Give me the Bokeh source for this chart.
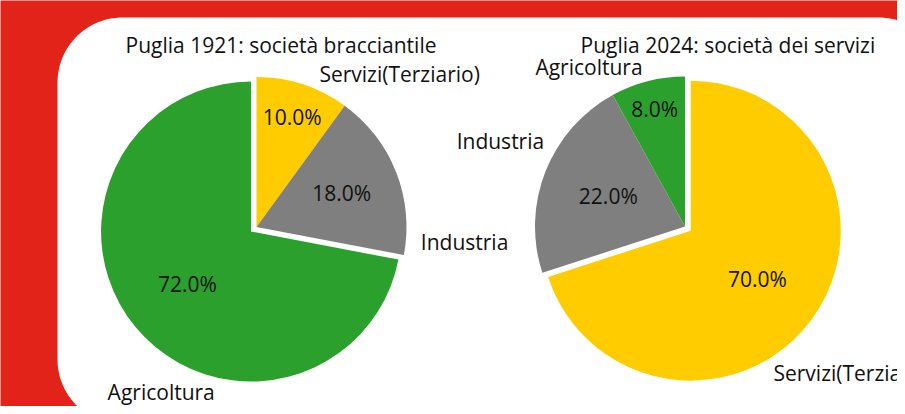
import numpy as np
from bokeh.plotting import figure
from bokeh.models import Range1d
from bokeh.core.properties import value
from bokeh.embed import file_html
from bokeh.resources import INLINE

# ---------------- data ----------------
sectors = ["Servizi(Terziario)", "Industria", "Agricoltura"]
share_1921 = [10.0, 18.0, 72.0]
share_2024 = [70.0, 22.0, 8.0]
title_1921 = "Puglia 1921: società bracciantile"
title_2024 = "Puglia 2024: società dei servizi"

# ---------------- style / layout ----------------
sector_colors = ["#FFCC00", "#7F7F7F", "#2CA02C"]
RED = "#E2231A"
FONT = value("Open Sans")
FS = "21px"
W, H = 897, 406           # figure size (page margin 8px)

def Y(img_y):             # picture row -> data y (y up)
    return H - img_y

p = figure(width=W, height=H, x_range=Range1d(0, W), y_range=Range1d(0, H),
           output_backend="svg", toolbar_location=None, min_border=0)
p.axis.visible = False
p.grid.visible = False
p.outline_line_color = None
p.background_fill_color = RED
p.border_fill_color = RED

# white rounded panel
x0, x1, yt, yb, rr = 57, 943, 17, 424, 65
def arc(cx, cy, a0, a1):
    t = np.linspace(np.radians(a0), np.radians(a1), 30)
    return cx + rr * np.cos(t), cy + rr * np.sin(t)
xs, ys = [], []
for cx, cy, a0, a1 in [(x1 - rr, Y(yt) - rr, 0, 90), (x0 + rr, Y(yt) - rr, 90, 180),
                       (x0 + rr, Y(yb) + rr, 180, 270), (x1 - rr, Y(yb) + rr, 270, 360)]:
    ax, ay = arc(cx, cy, a0, a1)
    xs += list(ax); ys += list(ay)
p.patch(xs, ys, fill_color="white", line_color=None)


def pie(cx, cy_img, r, vals, pull, label_angles, title, title_x):
    cy = Y(cy_img)
    v = np.array(vals, dtype=float)
    fr = v / v.sum()
    cum = np.concatenate([[0], np.cumsum(fr)])
    a_start = 90 - 360 * cum[:-1]
    a_end = 90 - 360 * cum[1:]
    mid = np.radians((a_start + a_end) / 2)
    off = np.array(pull) * r
    scx = cx + off * np.cos(mid)
    scy = cy + off * np.sin(mid)
    p.wedge(x=list(scx), y=list(scy), radius=r,
            start_angle=list(np.radians(a_end)), end_angle=list(np.radians(a_start)),
            fill_color=sector_colors, line_color=None)
    # percentage labels inside
    frac = np.maximum(0.55, 0.97 - 0.02 * v)
    px = scx + frac * r * np.cos(mid)
    py = scy + frac * r * np.sin(mid)
    p.text(x=list(px), y=list(py), text=[f"{x:.1f}%" for x in v],
           text_font=FONT, text_font_size=FS, text_color="#111111",
           text_align="center", text_baseline="middle")
    # category labels outside
    la = np.radians(np.array(label_angles))
    lx = scx + 1.1 * r * np.cos(la)
    ly = scy + 1.1 * r * np.sin(la)
    for i, name in enumerate(sectors):
        p.text(x=[lx[i]], y=[ly[i]], text=[name], text_font=FONT, text_font_size=FS,
               text_color="#111111",
               text_align="left" if np.cos(la[i]) > 0 else "right",
               text_baseline="middle")
    p.text(x=[title_x], y=[Y(44)], text=[title], text_font=FONT, text_font_size=FS,
           text_color="#111111", text_align="left", text_baseline="alphabetic")


pie(256, 226.5, 150, share_1921, [0, 0, 0.047], [67.6, -5.2, -102.7], title_1921, 125)
pie(684.5, 226, 150, share_2024, [0.047, 0, 0], [-59.9, 148.6, 104.9], title_2024, 580)

html = file_html(p, INLINE)
html = html.replace("<body>", f'<body style="background-color:{RED};">', 1)
open("out.html", "w").write(html)
